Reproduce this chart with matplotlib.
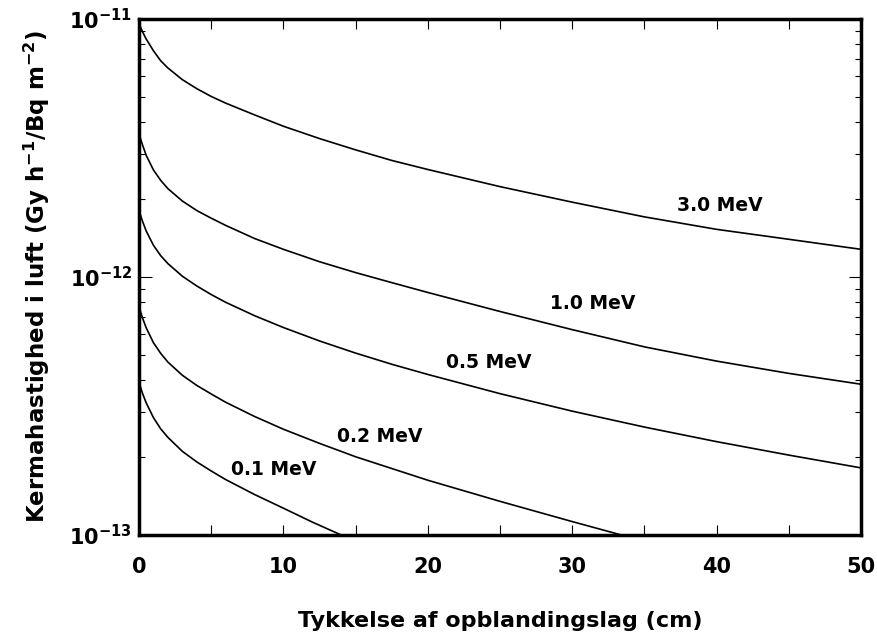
import matplotlib
matplotlib.use("Agg")
import matplotlib.pyplot as plt
from matplotlib.ticker import FixedLocator, MultipleLocator, NullFormatter

plt.rcParams["font.family"] = "DejaVu Sans"
plt.rcParams["font.weight"] = "bold"
plt.rcParams["mathtext.default"] = "bf"

# values
# thickness in cm, kerma rate in units of 1e-12 Gy h-1 / Bq m-2
x_grid = [0, 0.25, 0.5, 1, 1.5, 2, 3, 4, 5, 6, 8, 10, 12.5, 15, 17.5, 20,
          25, 30, 35, 40, 45, 50]

k_30 = [9.59, 8.91, 8.36, 7.53, 6.89, 6.46, 5.82, 5.37, 5.01, 4.72, 4.25, 3.84,
        3.44, 3.11, 2.83, 2.61, 2.24, 1.95, 1.71, 1.53, 1.40, 1.28]
k_10 = [3.59, 3.24, 2.96, 2.60, 2.37, 2.20, 1.97, 1.81, 1.69, 1.585, 1.41, 1.28,
        1.146, 1.040, 0.951, 0.871, 0.735, 0.625, 0.536, 0.472, 0.423, 0.384]
k_05 = [1.81, 1.64, 1.507, 1.327, 1.21, 1.127, 1.007, 0.923, 0.855, 0.798, 0.708,
        0.637, 0.565, 0.507, 0.459, 0.419, 0.353, 0.302, 0.262, 0.230, 0.204, 0.182]

x_02 = [0, 0.25, 0.5, 1, 1.5, 2, 3, 4, 5, 6, 8, 10, 12.5, 15, 17.5, 20, 25, 30, 33.4]
k_02 = [0.766, 0.692, 0.635, 0.556, 0.506, 0.468, 0.416, 0.380, 0.352, 0.327,
        0.288, 0.257, 0.2265, 0.201, 0.181, 0.163, 0.135, 0.1127, 0.100]

x_01 = [0, 0.25, 0.5, 1, 1.5, 2, 3, 4, 5, 6, 8, 10, 12, 14]
k_01 = [0.391, 0.353, 0.325, 0.285, 0.258, 0.239, 0.211, 0.192, 0.177, 0.164,
        0.1435, 0.127, 0.1122, 0.100]

unit = 1e-12

curve_labels = ["3.0 MeV", "1.0 MeV", "0.5 MeV", "0.2 MeV", "0.1 MeV"]
label_x = [40.2, 31.4, 24.2, 16.7, 9.3]
label_y = [1.9e-12, 7.9e-13, 4.65e-13, 2.4e-13, 1.79e-13]

y_ticks = [1e-13, 1e-12, 1e-11]
y_minor = [m * 10.0 ** e for e in (-13, -12) for m in range(2, 10)]

fig = plt.figure(figsize=(8.77, 6.42), dpi=100)
ax = fig.add_axes([0.1585, 0.1667, 0.8233, 0.8037])

curves = [(x_grid, k_30), (x_grid, k_10), (x_grid, k_05), (x_02, k_02), (x_01, k_01)]
for xs, ks in curves:
    ax.plot(xs, [k * unit for k in ks], color="black", linewidth=1.2)

for txt, lx, ly in zip(curve_labels, label_x, label_y):
    ax.text(lx, ly, txt, fontsize=13.5, fontweight="bold", ha="center", va="center")

ax.set_yscale("log")
ax.set_xlim(0, 50)
ax.set_ylim(1e-13, 1e-11)

ax.xaxis.set_major_locator(MultipleLocator(10))
ax.xaxis.set_minor_locator(MultipleLocator(5))
ax.yaxis.set_major_locator(FixedLocator(y_ticks))
ax.yaxis.set_minor_locator(FixedLocator(y_minor))
ax.yaxis.set_minor_formatter(NullFormatter())

ax.tick_params(axis="both", which="both", direction="in", top=True, right=True,
               width=0.8, labelsize=15)
ax.tick_params(axis="x", which="both", length=7.5, pad=16)
ax.tick_params(axis="y", which="major", length=9, pad=5)
ax.tick_params(axis="y", which="minor", length=4)

for sp in ax.spines.values():
    sp.set_linewidth(2.5)

ax.set_xlabel("Tykkelse af opblandingslag (cm)", fontsize=16, fontweight="bold",
              labelpad=24)
ax.set_ylabel("Kermahastighed i luft (Gy h$^{-1}$/Bq m$^{-2}$)", fontsize=16.5,
              fontweight="bold", labelpad=12)

fig.savefig("out.png", dpi=100)
